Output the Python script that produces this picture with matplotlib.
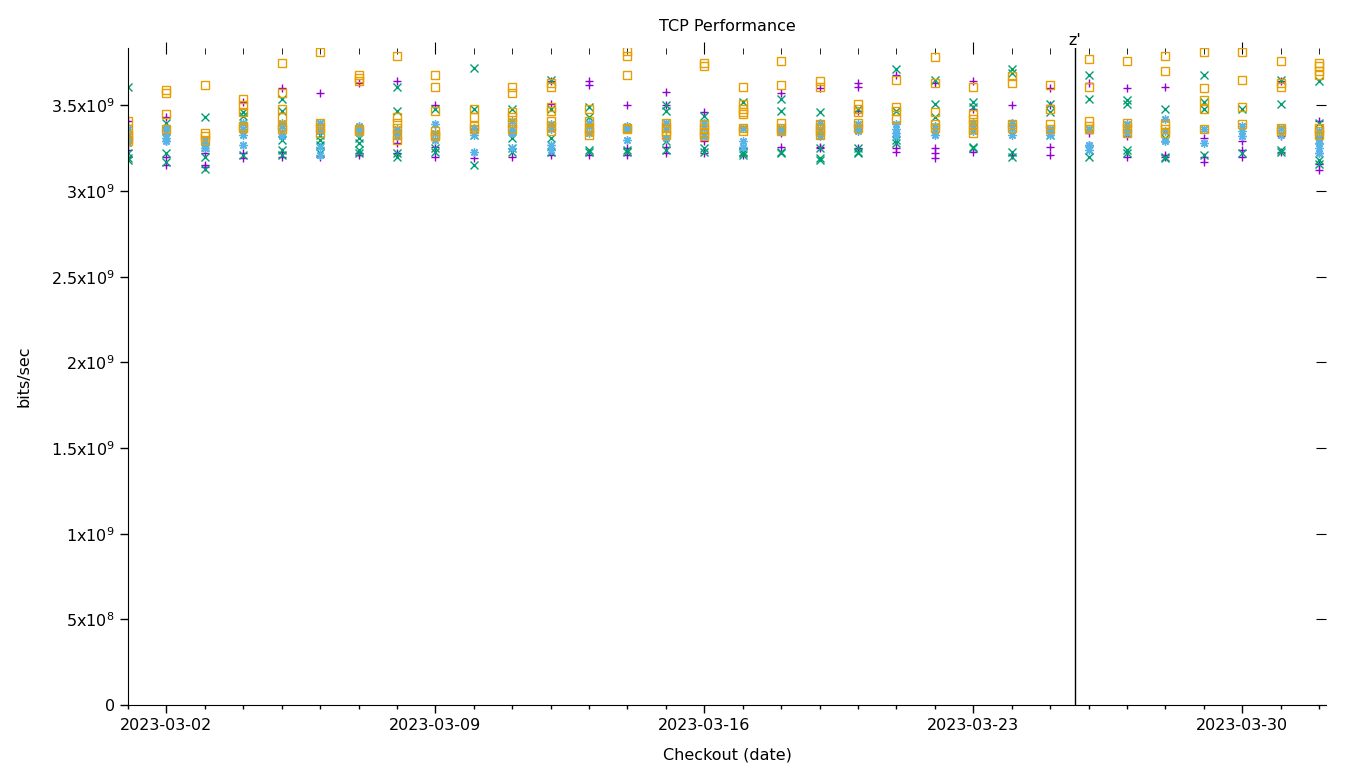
import numpy as np
import pandas as pd
import matplotlib
matplotlib.use("Agg")
import matplotlib.pyplot as plt
import matplotlib.dates as mdates

# one entry per checkout date, values in units of 1e9 bits/sec
dates = pd.date_range("2023-03-01", "2023-04-01", freq="D")

purple_vals = [
    [3.41, 3.24, 3.20], [3.43, 3.29, 3.20, 3.15], [3.22, 3.15, 3.14], [3.52, 3.22, 3.19],
    [3.60, 3.23, 3.20], [3.57, 3.36, 3.20], [3.63, 3.22, 3.21], [3.64, 3.28, 3.22],
    [3.50, 3.26, 3.20], [3.36, 3.19], [3.34, 3.20], [3.64, 3.51, 3.21],
    [3.64, 3.62, 3.21], [3.50, 3.25, 3.21], [3.58, 3.50, 3.26, 3.22], [3.46, 3.29, 3.22],
    [3.25, 3.21], [3.57, 3.34, 3.26], [3.60, 3.26, 3.25], [3.63, 3.61, 3.47, 3.25],
    [3.68, 3.25, 3.23], [3.63, 3.25, 3.22, 3.19], [3.64, 3.48, 3.23], [3.50, 3.21],
    [3.60, 3.50, 3.26, 3.21], [3.63, 3.34, 3.27], [3.60, 3.32, 3.20], [3.61, 3.21, 3.20],
    [3.31, 3.20, 3.17], [3.29, 3.24, 3.20], [3.64, 3.32, 3.23], [3.41, 3.22, 3.16, 3.12],
]
green_vals = [
    [3.61, 3.22, 3.19, 3.18], [3.40, 3.35, 3.22, 3.17], [3.43, 3.26, 3.20, 3.13], [3.46, 3.44, 3.21],
    [3.54, 3.47, 3.30, 3.24, 3.21], [3.33, 3.30, 3.27, 3.22], [3.31, 3.28, 3.24, 3.22], [3.61, 3.47, 3.22, 3.20],
    [3.48, 3.25, 3.23], [3.72, 3.48, 3.33, 3.15], [3.48, 3.31, 3.25, 3.23], [3.65, 3.48, 3.31, 3.23],
    [3.49, 3.43, 3.24, 3.23], [3.37, 3.24, 3.23], [3.50, 3.47, 3.29, 3.24], [3.44, 3.25, 3.23],
    [3.52, 3.23, 3.22, 3.21], [3.54, 3.47, 3.23, 3.22], [3.46, 3.25, 3.19, 3.18], [3.48, 3.25, 3.23, 3.22],
    [3.71, 3.47, 3.30, 3.28], [3.65, 3.51, 3.43], [3.52, 3.49, 3.26, 3.25], [3.71, 3.69, 3.23, 3.20],
    [3.51, 3.46, 3.33], [3.68, 3.54, 3.24, 3.20], [3.53, 3.51, 3.24, 3.22], [3.48, 3.31, 3.20, 3.19],
    [3.68, 3.52, 3.48, 3.21], [3.48, 3.22], [3.65, 3.51, 3.24, 3.23], [3.64, 3.40, 3.30, 3.18, 3.16],
]
blue_vals = [
    [3.36, 3.32, 3.30, 3.28], [3.37, 3.34, 3.31, 3.29], [3.30, 3.27, 3.25], [3.40, 3.36, 3.33, 3.27],
    [3.40, 3.38, 3.34, 3.32], [3.40, 3.35, 3.26, 3.21], [3.38, 3.36, 3.34], [3.36, 3.34, 3.32],
    [3.39, 3.34, 3.30], [3.37, 3.33, 3.23], [3.41, 3.36, 3.34, 3.25], [3.39, 3.36, 3.27, 3.24],
    [3.40, 3.38, 3.34], [3.38, 3.36, 3.30], [3.40, 3.36, 3.31], [3.40, 3.37, 3.32],
    [3.37, 3.29, 3.26], [3.37, 3.35], [3.40, 3.35, 3.32], [3.39, 3.37, 3.35],
    [3.39, 3.36, 3.34, 3.32], [3.38, 3.35, 3.33], [3.40, 3.38, 3.35], [3.40, 3.37, 3.33],
    [3.36, 3.34, 3.33], [3.36, 3.27, 3.24], [3.39, 3.36, 3.34], [3.42, 3.35, 3.29],
    [3.36, 3.28], [3.38, 3.35, 3.32], [3.37, 3.33], [3.35, 3.31, 3.28, 3.25, 3.22],
]
orange_vals = [
    [3.41, 3.36, 3.33, 3.31, 3.29], [3.59, 3.57, 3.45, 3.36], [3.62, 3.34, 3.32, 3.30], [3.54, 3.50, 3.46, 3.38, 3.37],
    [3.75, 3.57, 3.48, 3.43, 3.38, 3.36], [3.81, 3.40, 3.37, 3.34], [3.68, 3.66, 3.64, 3.36, 3.35], [3.79, 3.43, 3.40, 3.37, 3.33, 3.30],
    [3.68, 3.61, 3.47, 3.35, 3.33, 3.32], [3.48, 3.43, 3.38, 3.36], [3.61, 3.57, 3.46, 3.43, 3.40, 3.36], [3.63, 3.61, 3.49, 3.47, 3.41, 3.38, 3.35],
    [3.48, 3.41, 3.37, 3.35, 3.33], [3.82, 3.79, 3.68, 3.37, 3.36], [3.40, 3.37, 3.35, 3.33], [3.75, 3.73, 3.39, 3.36, 3.34, 3.32],
    [3.61, 3.51, 3.48, 3.46, 3.45, 3.37, 3.35], [3.76, 3.62, 3.40, 3.37, 3.35], [3.64, 3.61, 3.39, 3.37, 3.35, 3.33], [3.51, 3.48, 3.46, 3.40, 3.37],
    [3.65, 3.49, 3.47, 3.42], [3.78, 3.63, 3.46, 3.39, 3.37], [3.61, 3.45, 3.42, 3.39, 3.36, 3.34], [3.67, 3.63, 3.39, 3.37],
    [3.62, 3.48, 3.39, 3.36], [3.77, 3.61, 3.41, 3.38, 3.36], [3.76, 3.40, 3.37, 3.34], [3.79, 3.70, 3.39, 3.36, 3.34],
    [3.81, 3.60, 3.53, 3.48, 3.36], [3.81, 3.65, 3.49, 3.39], [3.76, 3.63, 3.61, 3.37, 3.35], [3.75, 3.73, 3.70, 3.68, 3.37, 3.35, 3.33],
]

marker_date = pd.Timestamp("2023-03-25 15:40")
marker_label = "z'"

ytick_vals = [0, 0.5e9, 1e9, 1.5e9, 2e9, 2.5e9, 3e9, 3.5e9]
ytick_labels = ["0", r"5x10$^{8}$", r"1x10$^{9}$", r"1.5x10$^{9}$", r"2x10$^{9}$",
                r"2.5x10$^{9}$", r"3x10$^{9}$", r"3.5x10$^{9}$"]

series = [
    (purple_vals, "#9400D3", "+", "#9400D3"),
    (green_vals, "#009E73", "x", "#009E73"),
    (blue_vals, "#56B4E9", (8, 2, 0), "#56B4E9"),
    (orange_vals, "#E69F00", "s", "none"),
]


def flatten(vals):
    xs, ys = [], []
    for d, day in zip(dates, vals):
        for v in day:
            xs.append(d)
            ys.append(v * 1e9)
    return xs, ys


plt.rcParams["font.family"] = ["DejaVu Sans"]
plt.rcParams["mathtext.default"] = "regular"

fig = plt.figure(figsize=(13.6, 7.68), dpi=100)
ax = fig.add_axes([128 / 1360, 1 - 705 / 768, (1326 - 128) / 1360, (705 - 48) / 768])

for vals, color, marker, face in series:
    xs, ys = flatten(vals)
    ax.plot(xs, ys, linestyle="none", marker=marker, color=color,
            markerfacecolor=face, markersize=6, markeredgewidth=1.0)

ax.axvline(marker_date, color="black", linewidth=1)
ax.text(marker_date, 3.835e9, marker_label, ha="center", va="bottom", fontsize=11.5)

ax.set_xlim(pd.Timestamp("2023-03-01"), pd.Timestamp("2023-04-01 04:20"))
ax.set_ylim(0, 3.835e9)

ax.spines["top"].set_visible(False)
ax.spines["right"].set_visible(False)

ax.xaxis.set_major_locator(mdates.DayLocator(bymonthday=[2, 9, 16, 23, 30]))
ax.xaxis.set_minor_locator(mdates.DayLocator())
ax.xaxis.set_major_formatter(mdates.DateFormatter("%Y-%m-%d"))
ax.set_yticks(ytick_vals)
ax.set_yticklabels(ytick_labels)

ax.tick_params(axis="both", which="major", direction="out", length=6, width=1, labelsize=11.5)
ax.tick_params(axis="x", which="minor", direction="out", length=3, width=1)

# mirrored ticks on top and right, gnuplot style
top = ax.secondary_xaxis("top")
top.xaxis.set_major_locator(mdates.DayLocator(bymonthday=[2, 9, 16, 23, 30]))
top.xaxis.set_minor_locator(mdates.DayLocator())
top.tick_params(which="major", direction="inout", length=8, labeltop=False)
top.tick_params(which="minor", direction="in", length=4)
top.spines["top"].set_visible(False)

right = ax.secondary_yaxis("right")
right.set_yticks(ytick_vals)
right.tick_params(direction="in", length=7, labelright=False)
right.spines["right"].set_visible(False)

ax.set_title("TCP Performance", fontsize=11.5, pad=12)
ax.set_xlabel("Checkout (date)", fontsize=11.5, labelpad=10)
ax.set_ylabel("bits/sec", fontsize=11.5, labelpad=14)

fig.savefig("out.png", dpi=100)
